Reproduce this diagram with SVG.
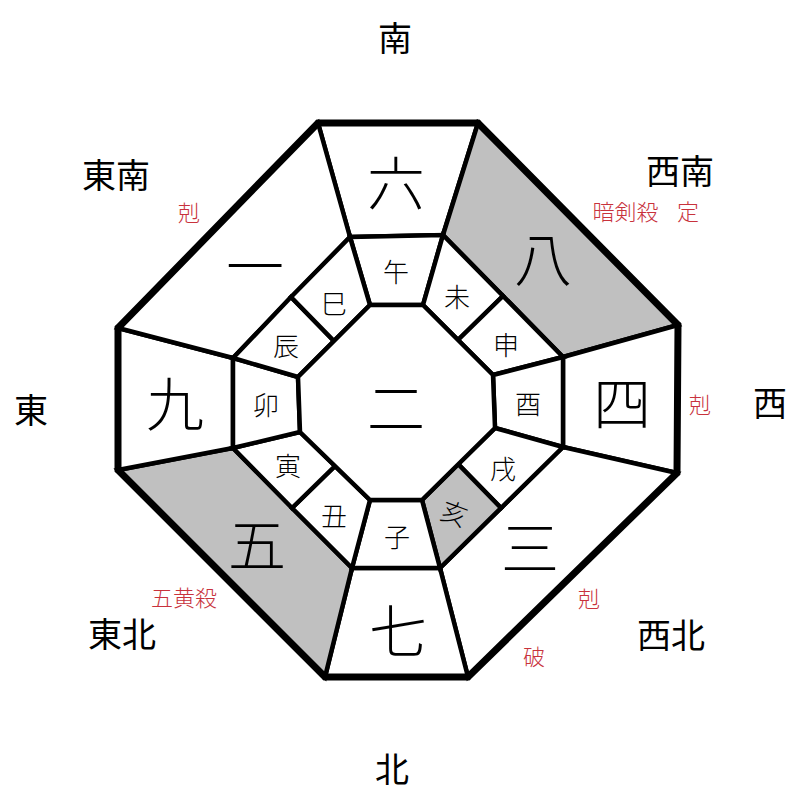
<svg xmlns="http://www.w3.org/2000/svg" width="800" height="800" viewBox="0 0 800 800">
<style>
.cell{fill:#fff;stroke:#000;stroke-width:4.5;stroke-linejoin:miter}
.gray{fill:#c0c0c0}
.frame{fill:none;stroke:#000;stroke-width:7;stroke-linejoin:miter}
text{font-family:"Noto Sans CJK JP","Noto Sans CJK SC",sans-serif;text-anchor:middle;dominant-baseline:central;fill:#000}
.dir{font-size:34px}
.num{font-size:58px;font-weight:300}
.br{font-size:26px;font-weight:300}
.red{font-size:22px;fill:#c8323c;font-weight:300}
</style>
<rect width="800" height="800" fill="#fff"/>
<g id="outer-ring">
<g id="cell-6"><polygon class="cell" points="318,123 478,123 443,235 350,237"/><text class="num" x="396" y="180">六</text></g>
<g id="cell-8"><polygon class="cell gray" points="478,123 678,325 563,357 443,235"/><text class="num" x="543" y="256">八</text></g>
<g id="cell-4"><polygon class="cell" points="678,325 677,473 563,447 563,357"/><text class="num" x="622" y="400">四</text></g>
<g id="cell-3"><polygon class="cell" points="677,473 468,677 440,568 563,447"/><text class="num" x="530" y="545">三</text></g>
<g id="cell-7"><polygon class="cell" points="468,677 325,677 352,568 440,568"/><text class="num" x="398" y="628">七</text></g>
<g id="cell-5"><polygon class="cell gray" points="325,677 118,470 233,448 352,568"/><text class="num" x="257" y="542">五</text></g>
<g id="cell-9"><polygon class="cell" points="118,470 118,328 233,358 233,448"/><text class="num" x="175" y="401">九</text></g>
<g id="cell-1"><polygon class="cell" points="118,328 318,123 350,237 233,358"/><text class="num" x="255" y="263">一</text></g>
</g>
<g id="inner-ring">
<g id="br-uma"><polygon class="cell" points="350,237 443,235 423,305 370,305"/><text class="br" x="396" y="270">午</text></g>
<g id="br-hitsuji"><polygon class="cell" points="443,235 503,296 458,340 423,305"/><text class="br" x="457" y="295">未</text></g>
<g id="br-saru"><polygon class="cell" points="503,296 563,357 493,375 458,340"/><text class="br" x="506" y="343">申</text></g>
<g id="br-tori"><polygon class="cell" points="563,357 563,447 495,428 493,375"/><text class="br" x="528" y="402">酉</text></g>
<g id="br-inu"><polygon class="cell" points="563,447 501,508 458,464 495,428"/><text class="br" x="503" y="467">戌</text></g>
<g id="br-i"><polygon class="cell gray" points="501,508 440,568 422,500 458,464"/><text class="br" x="455" y="512" transform="rotate(20 455 512)">亥</text></g>
<g id="br-ne"><polygon class="cell" points="440,568 352,568 370,500 422,500"/><text class="br" x="397" y="535">子</text></g>
<g id="br-ushi"><polygon class="cell" points="352,568 292,508 335,466 370,500"/><text class="br" x="334" y="514">丑</text></g>
<g id="br-tora"><polygon class="cell" points="292,508 233,448 300,432 335,466"/><text class="br" x="288" y="464">寅</text></g>
<g id="br-u"><polygon class="cell" points="233,448 233,358 298,377 300,432"/><text class="br" x="266" y="403">卯</text></g>
<g id="br-tatsu"><polygon class="cell" points="233,358 291,297 334,341 298,377"/><text class="br" x="286" y="344">辰</text></g>
<g id="br-mi"><polygon class="cell" points="291,297 350,237 370,305 334,341"/><text class="br" x="334" y="302">巳</text></g>
</g>
<g id="center"><polygon class="cell" points="370,305 423,305 493,375 495,428 422,500 370,500 300,432 298,377"/><text class="num" x="396" y="405">二</text></g>
<g id="frame"><polygon class="frame" points="318,123 478,123 678,325 677,473 468,677 325,677 118,470 118,328"/></g>
<g id="directions">
<text class="dir" x="395" y="36">南</text>
<text class="dir" x="116" y="173">東南</text>
<text class="dir" x="680" y="169">西南</text>
<text class="dir" x="31" y="408">東</text>
<text class="dir" x="770" y="401">西</text>
<text class="dir" x="122" y="632">東北</text>
<text class="dir" x="671" y="633">西北</text>
<text class="dir" x="392" y="767">北</text>
</g>
<g id="annotations">
<text class="red" x="189" y="211">剋</text>
<text class="red" x="628" y="210">暗剣殺 <tspan x="688">定</tspan></text>
<text class="red" x="700" y="403">剋</text>
<text class="red" x="184" y="596">五黄殺</text>
<text class="red" x="589" y="597">剋</text>
<text class="red" x="534" y="655">破</text>
</g>
</svg>
